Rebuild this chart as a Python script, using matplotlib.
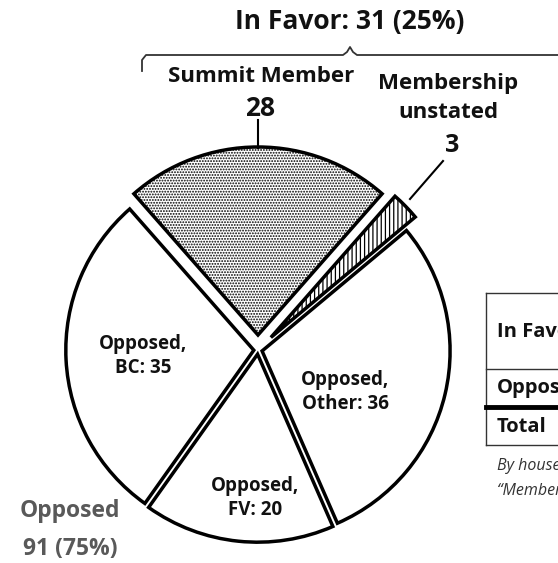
import matplotlib
matplotlib.use("Agg")
import matplotlib.pyplot as plt
from matplotlib.lines import Line2D

# ---- data ----
slice_labels = ["Summit Member", "Membership unstated", "Opposed, Other", "Opposed, FV", "Opposed, BC"]
slice_values = [28, 3, 36, 20, 35]
in_favor_total = 31
opposed_total = 91
table_rows = ["In Favor", "Opposed", "Total"]

W, H = 558, 563
plt.rcParams['font.family'] = ['Open Sans', 'DejaVu Sans']
plt.rcParams['hatch.linewidth'] = 0.9

fig = plt.figure(figsize=(W / 100, H / 100), dpi=100)
ax = fig.add_axes([0, 0, 1, 1])

def Y(y):
    return H - y

total = sum(slice_values)
start = 90 + slice_values[0] / total * 180
cx, cy, R = 258, 350, 188
explode_px = [15, 18, 4.2, 4.2, 4.2]
wedges, _ = ax.pie(slice_values, startangle=start, counterclock=False,
                   center=(cx, Y(cy)), radius=R, explode=explode_px,
                   wedgeprops=dict(edgecolor='black', linewidth=2.5, facecolor='white'))
wedges[0].set_hatch('......')
wedges[1].set_hatch('||||')

ax.set_xlim(0, W)
ax.set_ylim(0, H)
ax.set_aspect('equal')
ax.axis('off')

bold = dict(fontweight='bold', color='#111111', ha='center', va='center')

# header & bracket
ax.text(350, Y(22), f"In Favor: {in_favor_total} (25%)", fontsize=19, **bold)
bx = [142, 142, 146, 343, 347, 350, 353, 357, 600]
by = [71, 60, 55, 55, 52, 47, 52, 55, 55]
ax.add_line(Line2D(bx, [Y(v) for v in by], color='#333333', lw=1.3))

# summit labels
ax.text(261, Y(76), "Summit Member", fontsize=16, **bold)
ax.text(260, Y(108), f"{slice_values[0]}", fontsize=19, **bold)
ax.add_line(Line2D([258, 258], [Y(120), Y(148)], color='black', lw=1.5))

ax.text(448, Y(84), "Membership", fontsize=16, **bold)
ax.text(448, Y(112), "unstated", fontsize=16, **bold)
ax.text(452, Y(146), f"{slice_values[1]}", fontsize=18, **bold)
ax.add_line(Line2D([443, 410], [Y(161), Y(199)], color='black', lw=1.5))

# slice labels
ax.text(143, Y(356), "Opposed,\nBC: 35", fontsize=13.5, linespacing=1.3, **bold)
ax.text(345, Y(392), "Opposed,\nOther: 36", fontsize=13.5, linespacing=1.3, **bold)
ax.text(255, Y(498), "Opposed,\nFV: 20", fontsize=13.5, linespacing=1.3, **bold)

# opposed total
ax.text(70, Y(511), "Opposed", fontsize=16.5, fontweight='bold', color='#595959', ha='center', va='center')
ax.text(70, Y(549), f"{opposed_total} (75%)", fontsize=16.5, fontweight='bold', color='#595959', ha='center', va='center')

# table (cut off at right edge)
tl = 486
ax.add_line(Line2D([tl, tl], [Y(293), Y(445)], color='#333333', lw=1.0))
for yy in [293, 369, 445]:
    ax.add_line(Line2D([tl, 620], [Y(yy), Y(yy)], color='#333333', lw=1.0))
ax.add_line(Line2D([tl, 620], [Y(407), Y(407)], color='black', lw=3.5))
ax.text(497, Y(332), table_rows[0], fontsize=14.5, fontweight='bold', color='#111111', ha='left', va='center')
ax.text(497, Y(388), table_rows[1], fontsize=14.5, fontweight='bold', color='#111111', ha='left', va='center')
ax.text(497, Y(427), table_rows[2], fontsize=14.5, fontweight='bold', color='#111111', ha='left', va='center')

ax.text(497, Y(466), "By household count", fontsize=11.5, style='italic', color='#333333', ha='left', va='center')
ax.text(497, Y(491), "\u201cMembership unstated\u201d", fontsize=11.5, style='italic', color='#333333', ha='left', va='center')

fig.savefig("out.png", dpi=100)
